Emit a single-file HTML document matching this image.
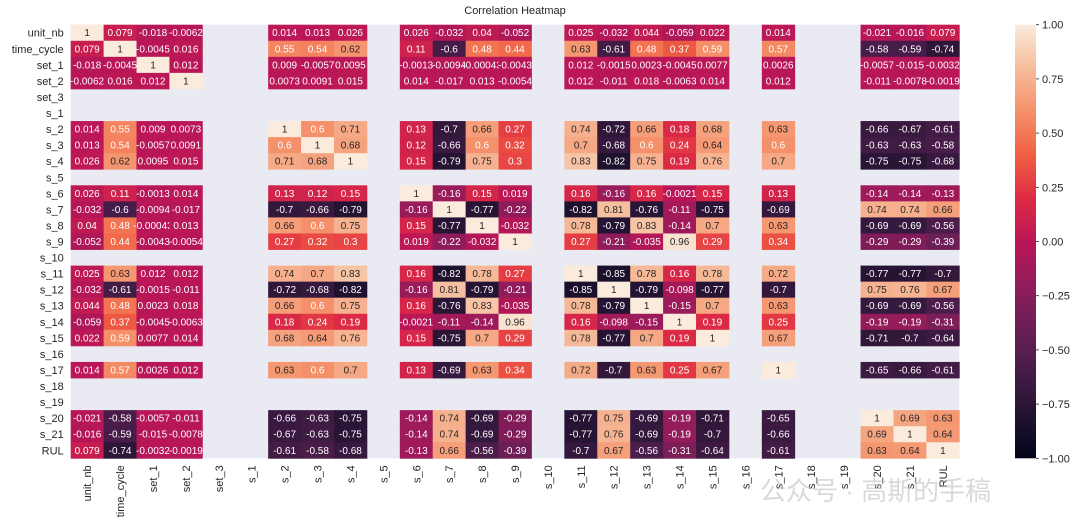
<!DOCTYPE html>
<html><head><meta charset="utf-8"><style>
html,body{margin:0;padding:0;background:#fff;width:1080px;height:529px;overflow:hidden;font-family:"Liberation Sans","Noto Sans CJK SC",sans-serif}
svg{display:block}
</style></head><body>
<svg id="chart" width="1080" height="529" xmlns="http://www.w3.org/2000/svg">
<defs><linearGradient id="cbgrad" x1="0" y1="1" x2="0" y2="0"></linearGradient></defs>
<text x="515" y="14" text-anchor="middle" font-size="11" fill="#262626">Correlation Heatmap</text>
<g id="cells"></g><g id="ylabels"></g><g id="xlabels"></g><g id="cbar"></g>
<text x="760" y="500" font-size="26" fill="#bbb" opacity="0.55">公众号 · 高斯的手稿</text>
</svg>
<script>
const labels=["unit_nb","time_cycle","set_1","set_2","set_3","s_1","s_2","s_3","s_4","s_5","s_6","s_7","s_8","s_9","s_10","s_11","s_12","s_13","s_14","s_15","s_16","s_17","s_18","s_19","s_20","s_21","RUL"];
const validVars=["unit_nb","time_cycle","set_1","set_2","s_2","s_3","s_4","s_6","s_7","s_8","s_9","s_11","s_12","s_13","s_14","s_15","s_17","s_20","s_21","RUL"];
const r_unit_nb=[1,0.079,-0.018,-0.0062,0.014,0.013,0.026,0.026,-0.032,0.04,-0.052,0.025,-0.032,0.044,-0.059,0.022,0.014,-0.021,-0.016,0.079];
const r_time_cycle=[0.079,1,-0.0045,0.016,0.55,0.54,0.62,0.11,-0.6,0.48,0.44,0.63,-0.61,0.48,0.37,0.59,0.57,-0.58,-0.59,-0.74];
const r_set_1=[-0.018,-0.0045,1,0.012,0.009,-0.0057,0.0095,-0.0013,-0.0094,-0.00043,-0.0043,0.012,-0.0015,0.0023,-0.0045,0.0077,0.0026,-0.0057,-0.015,-0.0032];
const r_set_2=[-0.0062,0.016,0.012,1,0.0073,0.0091,0.015,0.014,-0.017,0.013,-0.0054,0.012,-0.011,0.018,-0.0063,0.014,0.012,-0.011,-0.0078,-0.0019];
const r_s_2=[0.014,0.55,0.009,0.0073,1,0.6,0.71,0.13,-0.7,0.66,0.27,0.74,-0.72,0.66,0.18,0.68,0.63,-0.66,-0.67,-0.61];
const r_s_3=[0.013,0.54,-0.0057,0.0091,0.6,1,0.68,0.12,-0.66,0.6,0.32,0.7,-0.68,0.6,0.24,0.64,0.6,-0.63,-0.63,-0.58];
const r_s_4=[0.026,0.62,0.0095,0.015,0.71,0.68,1,0.15,-0.79,0.75,0.3,0.83,-0.82,0.75,0.19,0.76,0.7,-0.75,-0.75,-0.68];
const r_s_6=[0.026,0.11,-0.0013,0.014,0.13,0.12,0.15,1,-0.16,0.15,0.019,0.16,-0.16,0.16,-0.0021,0.15,0.13,-0.14,-0.14,-0.13];
const r_s_7=[-0.032,-0.6,-0.0094,-0.017,-0.7,-0.66,-0.79,-0.16,1,-0.77,-0.22,-0.82,0.81,-0.76,-0.11,-0.75,-0.69,0.74,0.74,0.66];
const r_s_8=[0.04,0.48,-0.00043,0.013,0.66,0.6,0.75,0.15,-0.77,1,-0.032,0.78,-0.79,0.83,-0.14,0.7,0.63,-0.69,-0.69,-0.56];
const r_s_9=[-0.052,0.44,-0.0043,-0.0054,0.27,0.32,0.3,0.019,-0.22,-0.032,1,0.27,-0.21,-0.035,0.96,0.29,0.34,-0.29,-0.29,-0.39];
const r_s_11=[0.025,0.63,0.012,0.012,0.74,0.7,0.83,0.16,-0.82,0.78,0.27,1,-0.85,0.78,0.16,0.78,0.72,-0.77,-0.77,-0.7];
const r_s_12=[-0.032,-0.61,-0.0015,-0.011,-0.72,-0.68,-0.82,-0.16,0.81,-0.79,-0.21,-0.85,1,-0.79,-0.098,-0.77,-0.7,0.75,0.76,0.67];
const r_s_13=[0.044,0.48,0.0023,0.018,0.66,0.6,0.75,0.16,-0.76,0.83,-0.035,0.78,-0.79,1,-0.15,0.7,0.63,-0.69,-0.69,-0.56];
const r_s_14=[-0.059,0.37,-0.0045,-0.0063,0.18,0.24,0.19,-0.0021,-0.11,-0.14,0.96,0.16,-0.098,-0.15,1,0.19,0.25,-0.19,-0.19,-0.31];
const r_s_15=[0.022,0.59,0.0077,0.014,0.68,0.64,0.76,0.15,-0.75,0.7,0.29,0.78,-0.77,0.7,0.19,1,0.67,-0.71,-0.7,-0.64];
const r_s_17=[0.014,0.57,0.0026,0.012,0.63,0.6,0.7,0.13,-0.69,0.63,0.34,0.72,-0.7,0.63,0.25,0.67,1,-0.65,-0.66,-0.61];
const r_s_20=[-0.021,-0.58,-0.0057,-0.011,-0.66,-0.63,-0.75,-0.14,0.74,-0.69,-0.29,-0.77,0.75,-0.69,-0.19,-0.71,-0.65,1,0.69,0.63];
const r_s_21=[-0.016,-0.59,-0.015,-0.0078,-0.67,-0.63,-0.75,-0.14,0.74,-0.69,-0.29,-0.77,0.76,-0.69,-0.19,-0.7,-0.66,0.69,1,0.64];
const r_RUL=[0.079,-0.74,-0.0032,-0.0019,-0.61,-0.58,-0.68,-0.13,0.66,-0.56,-0.39,-0.7,0.67,-0.56,-0.31,-0.64,-0.61,0.63,0.64,1];
const matrix=[r_unit_nb,r_time_cycle,r_set_1,r_set_2,r_s_2,r_s_3,r_s_4,r_s_6,r_s_7,r_s_8,r_s_9,r_s_11,r_s_12,r_s_13,r_s_14,r_s_15,r_s_17,r_s_20,r_s_21,r_RUL];
const cbTicks=[-1,-0.75,-0.5,-0.25,0,0.25,0.5,0.75,1];

const NS="http://www.w3.org/2000/svg";
const L=70.7,R=959.3,T=24.7,B=458.3;
const cw=(R-L)/labels.length,ch=(B-T)/labels.length;
const xPos=i=>L+i*cw, yPos=i=>T+i*ch;
const stops=[[0,[3,5,26]],[0.1,[34,19,49]],[0.2,[69,28,71]],[0.3,[106,31,86]],[0.4,[146,28,91]],[0.5,[185,22,87]],[0.6,[222,43,68]],[0.7,[240,96,67]],[0.8,[245,145,106]],[0.9,[246,189,156]],[1,[250,235,221]]];
function cmap(v){const t=Math.max(0,Math.min(1,(v+1)/2));for(let i=1;i<stops.length;i++){if(t<=stops[i][0]){const a=stops[i-1],b=stops[i],f=(t-a[0])/(b[0]-a[0]);return a[1].map((c,k)=>Math.round(c+(b[1][k]-c)*f));}}return stops[stops.length-1][1];}
function lum(c){const l=c.map(x=>{x/=255;return x<=0.03928?x/12.92:Math.pow((x+0.055)/1.055,2.4)});return 0.2126*l[0]+0.7152*l[1]+0.0722*l[2];}
function el(tag,attrs,parent){const e=document.createElementNS(NS,tag);for(const k in attrs)e.setAttribute(k,attrs[k]);parent.appendChild(e);return e;}
const cells=document.getElementById('cells');
const bg=el('rect',{x:L,y:T,width:R-L,height:B-T,fill:'#eaeaf2'},cells);


labels.forEach((rl,i)=>{const ri=validVars.indexOf(rl);if(ri<0)return;
 labels.forEach((cl,j)=>{const ci=validVars.indexOf(cl);if(ci<0)return;
  const v=matrix[ri][ci];const c=cmap(v);
  const r=el('rect',{x:xPos(j),y:yPos(i),width:cw+0.4,height:ch+0.4,fill:`rgb(${c})`},cells);
  
  
  const t=el('text',{x:xPos(j)+cw/2,y:yPos(i)+ch/2+3.5,'text-anchor':'middle','font-size':'10',fill:lum(c)>0.408?'#262626':'#ffffff'},cells);
  t.textContent=String(Number(v.toPrecision(2)));
  
  
 });});
const yl=document.getElementById('ylabels'),xl=document.getElementById('xlabels');
labels.forEach((lb,i)=>{
 const t=el('text',{x:L-7,y:yPos(i)+ch/2+4,'text-anchor':'end','font-size':'11',fill:'#262626'},yl);
 t.textContent=lb;
 
 
 const cx=xPos(i)+cw/2+4,cy=B+7;
 const u=el('text',{x:cx,y:cy,'text-anchor':'end','font-size':'11',fill:'#262626',transform:`rotate(-90 ${cx} ${cy})`},xl);
 u.textContent=lb;
 
 
});
const cb=document.getElementById('cbar');const grad=document.getElementById('cbgrad');
for(let k=0;k<=20;k++){const c=cmap(-1+k/10);el('stop',{offset:(k/20),'stop-color':`rgb(${c})`},grad);}
const CX=1015,CW=21,CT=24.7,CB=458.3;
const cr=el('rect',{x:CX,y:CT,width:CW,height:CB-CT,fill:'url(#cbgrad)'},cb);


const cy=v=>CB-(v+1)/2*(CB-CT);
cbTicks.forEach(v=>{
 el('line',{x1:CX+CW,x2:CX+CW+3,y1:cy(v),y2:cy(v),stroke:'#262626','stroke-width':0.8},cb);
 const t=el('text',{x:CX+CW+6,y:cy(v)+4,'font-size':'11',fill:'#262626'},cb);
 t.textContent=(v<0?'\u2212':'')+Math.abs(v).toFixed(2);
 
 
});
</script>
</body></html>
